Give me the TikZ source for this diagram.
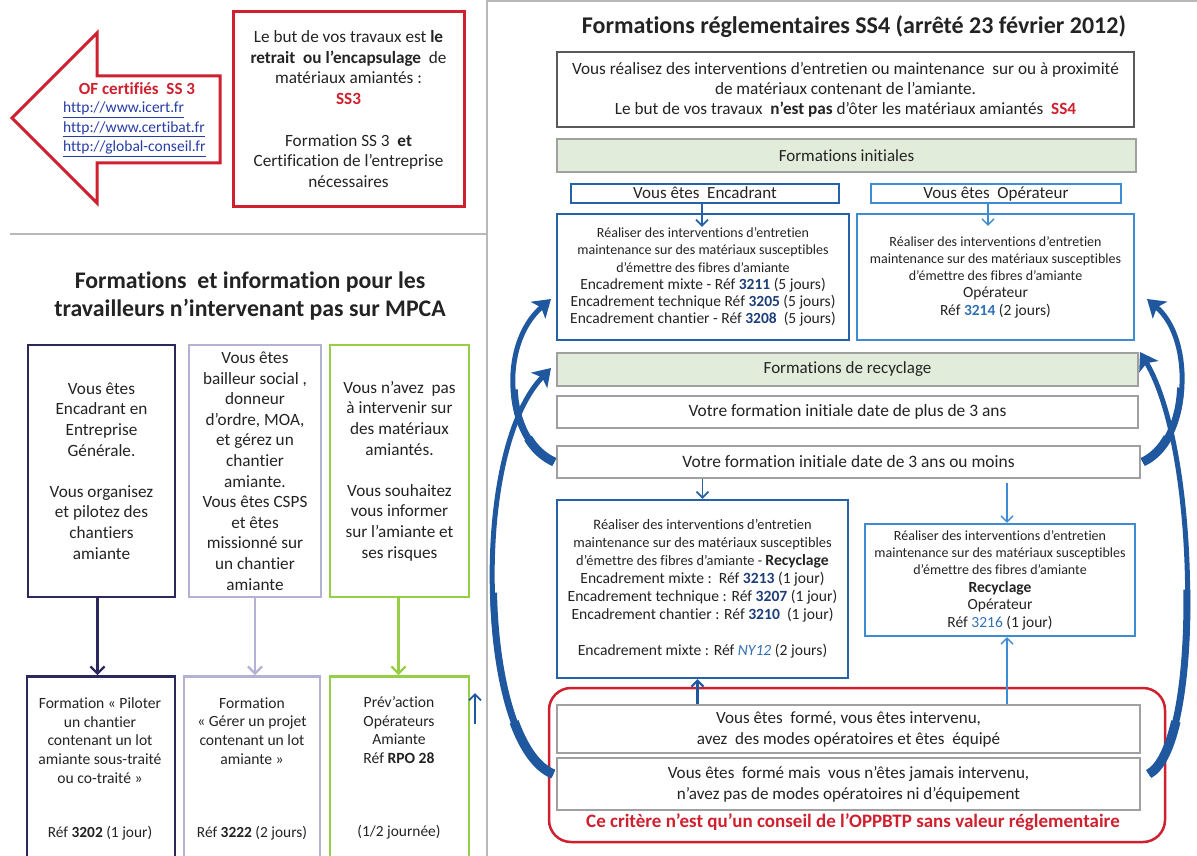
\documentclass[tikz,border=0pt]{standalone}
\usepackage{fontspec}
\setmainfont{Carlito}[Ligatures=CommonOff]
\usetikzlibrary{arrows.meta,calc}
\definecolor{ssred}{RGB}{206,32,46}
\definecolor{navy}{RGB}{42,40,92}
\definecolor{lav}{RGB}{180,178,212}
\definecolor{lgreen}{RGB}{150,206,70}
\definecolor{bdark}{RGB}{38,98,168}
\definecolor{blight}{RGB}{64,140,210}
\definecolor{numblue}{RGB}{30,62,120}
\definecolor{numlight}{RGB}{50,112,182}
\definecolor{arrblue}{RGB}{32,88,160}
\definecolor{gborder}{RGB}{160,160,160}
\definecolor{dgborder}{RGB}{90,90,90}
\definecolor{gfill}{RGB}{226,236,218}
\definecolor{sepgrey}{RGB}{185,185,185}
\definecolor{linkblue}{RGB}{40,60,165}
\definecolor{txtcol}{RGB}{35,35,35}
\newcommand\fsz[2]{\fontsize{#1}{#2}\selectfont}
% thicker tail part [0,#5] of a cubic curve #1..#4
\newcommand\taperpart[6]{%
  \coordinate (q01) at ($(#1)!#5!(#2)$);
  \coordinate (q12) at ($(#2)!#5!(#3)$);
  \coordinate (q23) at ($(#3)!#5!(#4)$);
  \coordinate (q012) at ($(q01)!#5!(q12)$);
  \coordinate (q123) at ($(q12)!#5!(q23)$);
  \coordinate (q0123) at ($(q012)!#5!(q123)$);
  \draw[draw=arrblue, line width=#6] (#1) .. controls (q01) and (q012) .. (q0123);
}
\tikzset{
  every node/.style={inner sep=0pt, text=txtcol},
  box/.style={draw, rectangle, align=center, inner sep=0pt},
  lconn/.style={line width=2.2pt, -{Straight Barb[length=7pt,width=14pt]}},
  sconn/.style={line width=1.8pt, -{Straight Barb[length=6pt,width=12pt]}},
  bigarr/.style={draw=arrblue, line width=5pt, -{Stealth[length=17pt,width=22pt,inset=4pt]}},
  sepline/.style={draw=sepgrey, line width=1.5pt}
}
\begin{document}
\begin{tikzpicture}[x=1pt,y=-1pt]
\useasboundingbox (0,0) rectangle (1197,856);
\clip (0,0) rectangle (1197,856);
% separators
\draw[sepline] (487,0) -- (487,856);
\draw[sepline] (10,234) -- (487,234);
\draw[sepline] (487,1) -- (1197,1);

% ---------- top left ----------
\draw[draw=ssred, line width=3pt, line join=miter] (12,118) -- (97,33) -- (97,76) -- (220,76) -- (220,163) -- (97,163) -- (97,203) -- cycle;
\node[text=ssred, font=\bfseries\fsz{17}{18}] (ofc) at (137,89) {OF certifiés\ \ SS 3};
\node[anchor=north west, align=left, text=linkblue, font=\fsz{15.5}{19.5}] (urls) at (63,102)
  {\underline{http://www.icert.fr}\\\underline{http://www.certibat.fr}\\\underline{http://global-conseil.fr}};
\node[box, draw=ssred, line width=3pt, minimum width=231pt, minimum height=194pt, font=\fsz{17.2}{20.7}] (ss3) at (348.5,109)
  {Le but de vos travaux est \textbf{le}\\\textbf{retrait\ \ ou l’encapsulage}\ \ de\\matériaux amiantés :\\\textcolor{ssred}{\textbf{SS3}}\\[20.7pt]Formation SS 3\ \ \textbf{et}\\Certification de l’entreprise\\nécessaires};

% ---------- left middle ----------
\node[align=center, font=\bfseries\fsz{23.8}{28}] (ltitle) at (250,296)
  {Formations\ \ et information pour les\\travailleurs n’intervenant pas sur MPCA};

\node[box, draw=navy, line width=2.8pt, minimum width=147pt, minimum height=252pt, font=\fsz{17.2}{20.6}] (b1) at (101.5,471)
  {Vous êtes\\Encadrant en\\Entreprise\\Générale.\\[20.6pt]Vous organisez\\et pilotez des\\chantiers\\amiante};
\node[box, draw=lav, line width=2.8pt, minimum width=132pt, minimum height=252pt, font=\fsz{17.2}{20.6}] (b2) at (255,471)
  {Vous êtes\\bailleur social ,\\donneur\\d’ordre, MOA,\\et gérez un\\chantier\\amiante.\\Vous êtes CSPS\\et êtes\\missionné sur\\un chantier\\amiante};
\node[box, draw=lgreen, line width=2.8pt, minimum width=139pt, minimum height=252pt, font=\fsz{17.2}{20.6}] (b3) at (399.5,471)
  {Vous n’avez\ \ pas\\à intervenir sur\\des matériaux\\amiantés.\\[20.6pt]Vous souhaitez\\vous informer\\sur l’amiante et\\ses risques};

\node[box, draw=navy, line width=2.8pt, minimum width=148pt, minimum height=210pt, anchor=north] (b4) at (101,675) {};
\node[box, draw=lav, line width=2.8pt, minimum width=136pt, minimum height=210pt, anchor=north] (b5) at (252,675) {};
\node[box, draw=lgreen, line width=2.8pt, minimum width=139pt, minimum height=210pt, anchor=north] (b6) at (399.5,675) {};

\node[align=center, font=\fsz{15.6}{18.7}] (t4) at (100,740.5)
  {Formation « Piloter\\un chantier\\contenant un lot\\amiante sous-traité\\ou co-traité »};
\node[font=\fsz{15.4}{18.7}] (r4) at (100,833) {Réf \textbf{3202} (1 jour)};
\node[align=center, font=\fsz{15.6}{18.7}] (t5) at (252,731)
  {Formation\\« Gérer un projet\\contenant un lot\\amiante »};
\node[font=\fsz{15.4}{18.7}] (r5) at (252,833) {Réf \textbf{3222} (2 jours)};
\node[align=center, font=\fsz{15.6}{18.7}] (t6) at (399,730)
  {Prév'action\\Opérateurs\\Amiante\\Réf \textbf{RPO 28}};
\node[font=\fsz{15.4}{18.7}] (r6) at (399,832) {(1/2 journée)};

\draw[lconn, navy] ($(b1.south)+(-4,0)$) -- ($(b1.south |- b4.north)+(-4,0)$);
\draw[lconn, lav] (b2.south) -- (b2.south |- b5.north);
\draw[lconn, lgreen] ($(b3.south)+(-1,0)$) -- ($(b3.south |- b6.north)+(-1,0)$);

\coordinate (st1) at (475,724);
\coordinate (st2) at (475,693);
\draw[sconn, arrblue] (st1) -- (st2);

% ---------- right panel ----------
\node[font=\bfseries\fsz{24}{26}] (title) at (854,27) {Formations réglementaires SS4 (arrêté 23 février 2012)};
\node[box, draw=dgborder, line width=2.2pt, minimum width=577pt, minimum height=75pt, font=\fsz{17.2}{20}] (ss4) at (845.5,89.5)
  {Vous réalisez des interventions d’entretien ou maintenance\ \ sur ou à proximité\\de matériaux contenant de l’amiante.\\Le but de vos travaux\ \ \textbf{n’est pas} d’ôter les matériaux amiantés\ \ \textcolor{ssred}{\textbf{SS4}}};
\node[box, draw=gborder, fill=gfill, line width=1.5pt, minimum width=579pt, minimum height=33pt, font=\fsz{17}{18}] (init) at (846.5,155.5) {Formations initiales};

\node[box, draw=bdark, line width=2pt, minimum width=268pt, minimum height=19pt, text height=12pt, text depth=3pt, font=\fsz{17}{17}] (encb) at (705,193.5) {Vous êtes\ \ Encadrant};
\node[box, draw=blight, line width=2pt, minimum width=250pt, minimum height=19pt, text height=12pt, text depth=3pt, font=\fsz{17}{17}] (opb) at (996,193.5) {Vous êtes\ \ Opérateur};

\node[box, draw=bdark, line width=2.2pt, minimum width=292pt, minimum height=126pt, font=\fsz{15.5}{17.2}] (encinit) at (703,277)
  {{\fsz{14}{17.2}Réaliser des interventions d'entretien}\\{\fsz{14}{17.2}maintenance sur des matériaux susceptibles}\\{\fsz{14}{17.2}d'émettre des fibres d'amiante}\\Encadrement mixte - Réf \textcolor{numblue}{\textbf{3211}} (5 jours)\\Encadrement technique Réf \textcolor{numblue}{\textbf{3205}} (5 jours)\\Encadrement chantier - Réf \textcolor{numblue}{\textbf{3208}}\ \ (5 jours)};
\node[box, draw=blight, line width=2.2pt, minimum width=277pt, minimum height=126pt, font=\fsz{15.5}{17.2}] (opinit) at (995.5,277)
  {{\fsz{14}{17.2}Réaliser des interventions d'entretien}\\{\fsz{14}{17.2}maintenance sur des matériaux susceptibles}\\{\fsz{14}{17.2}d'émettre des fibres d'amiante}\\Opérateur\\Réf \textcolor{numlight}{\textbf{3214}} (2 jours)};

\draw[sconn, bdark] ($(encb.south)+(-3,0)$) -- ($(encb.south |- encinit.north)+(-3,14)$);
\draw[sconn, blight, line width=1.4pt] ($(opb.south)+(-8,0)$) -- ($(opb.south |- opinit.north)+(-8,13)$);

\node[box, draw=gborder, fill=gfill, line width=1.5pt, minimum width=581pt, minimum height=33pt, font=\fsz{17}{18}] (recyc) at (847.5,369.5) {Formations de recyclage};
\node[box, draw=gborder, fill=white, line width=1.5pt, minimum width=581pt, minimum height=32pt, font=\fsz{17.4}{18}] (plus3) at (847.5,412) {Votre formation initiale date de plus de 3 ans};
\node[box, draw=gborder, fill=white, line width=1.5pt, minimum width=583pt, minimum height=32pt, font=\fsz{17.4}{18}] (moins3) at (848.5,462) {Votre formation initiale date de 3 ans ou moins};

\node[box, draw=bdark, line width=2.2pt, minimum width=291pt, minimum height=178pt, font=\fsz{15.6}{18}] (encrec) at (702.5,589)
  {{\fsz{14.4}{18}Réaliser des interventions d'entretien}\\{\fsz{14.4}{18}maintenance sur des matériaux susceptibles}\\{\fsz{14.4}{18}d'émettre des fibres d'amiante - \textbf{\fsz{15.6}{18}Recyclage}}\\Encadrement mixte :\ \ Réf \textcolor{numblue}{\textbf{3213}} (1 jour)\\Encadrement technique : Réf \textcolor{numblue}{\textbf{3207}} (1 jour)\\Encadrement chantier : Réf \textcolor{numblue}{\textbf{3210}}\ \ (1 jour)\\[18pt]Encadrement mixte : Réf \textcolor{numlight}{\textit{NY12}} (2 jours)};
\node[box, draw=blight, line width=2.2pt, minimum width=270pt, minimum height=112pt, font=\fsz{15.5}{17.4}] (oprec) at (1000,580)
  {{\fsz{14}{17.4}Réaliser des interventions d'entretien}\\{\fsz{14}{17.4}maintenance sur des matériaux susceptibles}\\{\fsz{14}{17.4}d'émettre des fibres d'amiante}\\\textbf{Recyclage}\\Opérateur\\Réf \textcolor{numlight}{3216} (1 jour)};

\draw[sconn, bdark] (encrec.north |- moins3.south) -- (encrec.north);
\draw[sconn, blight, line width=1.4pt] ($(oprec.north |- moins3.south)+(7,4)$) -- ($(oprec.north)+(7,0)$);

\node[draw=ssred, line width=2.5pt, rounded corners=22pt, minimum width=616pt, minimum height=154pt] (redb) at (857,765) {};
\node[box, draw=gborder, fill=white, line width=1.5pt, minimum width=583pt, minimum height=48pt, font=\fsz{17.1}{21}] (f1) at (848.5,729)
  {Vous êtes\ \ formé, vous êtes intervenu,\\avez\ \ des modes opératoires et êtes\ \ équipé};
\node[box, draw=gborder, fill=white, line width=1.5pt, minimum width=583pt, minimum height=52pt, font=\fsz{17.1}{21}] (f2) at (848.5,784)
  {Vous êtes\ \ formé mais\ \ vous n’êtes jamais intervenu,\\n’avez pas de modes opératoires ni d’équipement};
\node[text=ssred, font=\bfseries\fsz{19}{20}] (crit) at (853,822) {Ce critère n’est qu’un conseil de l’OPPBTP sans valeur réglementaire};

\draw[sconn, arrblue, line width=2.2pt] ($(encrec.south |- f1.north)+(-5,0)$) -- ($(encrec.south)+(-5,0)$);
\draw[sconn, blight, line width=1.4pt] ($(oprec.south |- f1.north)+(7,0)$) -- ($(oprec.south)+(7,0)$);

% big curved arrows
\coordinate (A0) at ($(moins3.west)+(-2,0)$);
\coordinate (A1) at (505,440);
\coordinate (A2) at (498,345);
\coordinate (hA) at (551,299);
\coordinate (B0) at ($(f2.west)+(-3,-10)$);
\coordinate (B1) at (480,745);
\coordinate (B2) at (468,455);
\coordinate (hB) at (551,368);
\coordinate (C0) at ($(moins3.east)+(2,0)$);
\coordinate (C1) at (1190,440);
\coordinate (C2) at (1195,340);
\coordinate (hC) at (1147,299);
\coordinate (D0) at ($(f2.east)+(8,-10)$);
\coordinate (D1) at (1202,745);
\coordinate (D2) at (1200,452);
\coordinate (hD) at (1140,352);
\draw[bigarr] (A0) .. controls (A1) and (A2) .. (hA);
\draw[bigarr] (B0) .. controls (B1) and (B2) .. (hB);
\draw[bigarr] (C0) .. controls (C1) and (C2) .. (hC);
\draw[bigarr] (D0) .. controls (D1) and (D2) .. (hD);
\taperpart{A0}{A1}{A2}{hA}{0.5}{7pt}
\taperpart{A0}{A1}{A2}{hA}{0.22}{9pt}
\taperpart{B0}{B1}{B2}{hB}{0.5}{7pt}
\taperpart{B0}{B1}{B2}{hB}{0.22}{9.5pt}
\taperpart{C0}{C1}{C2}{hC}{0.5}{7pt}
\taperpart{C0}{C1}{C2}{hC}{0.22}{9pt}
\taperpart{D0}{D1}{D2}{hD}{0.5}{7pt}
\taperpart{D0}{D1}{D2}{hD}{0.22}{9.5pt}
\end{tikzpicture}
\end{document}
